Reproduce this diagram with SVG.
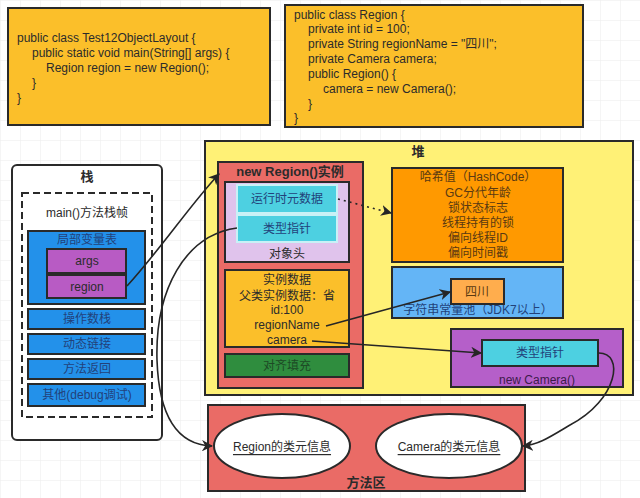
<svg xmlns="http://www.w3.org/2000/svg" width="640" height="498" viewBox="0 0 640 498">
<defs>
<pattern id="grid" width="20" height="20" patternUnits="userSpaceOnUse">
<path d="M20 0H0V20" fill="none" stroke="#ececec" stroke-width="1"/>
</pattern>
<marker id="ah" viewBox="0 0 10 10" refX="9" refY="5" markerWidth="7" markerHeight="7" orient="auto">
<path d="M0,0 L10,5 L0,10 L3,5 Z" fill="#262626"/>
</marker>
<style>
text{font-family:"Liberation Sans","Noto Sans CJK SC",sans-serif;font-size:12px;fill:#2b2b2b}
.c{text-anchor:middle;dominant-baseline:central}
.b{font-weight:bold;font-size:13px}
.box{stroke:#2a2a2a;stroke-width:2}
.code{fill:#FBBF2A}
.blue{fill:#2391EA}
.bt{fill:#22427a}
.pur{fill:#B85BC4}
.cy{fill:#4DD0E1;stroke:#c9f1f6;stroke-width:2}
.red{fill:#EA6B66}
.ln{fill:none;stroke:#262626;stroke-width:1.6}
.ht{fill:#5a3a12}
</style>
</defs>
<rect width="640" height="498" fill="#ffffff"/>
<rect width="640" height="498" fill="url(#grid)"/>

<g id="code1">
<rect x="8" y="8" width="262" height="117" class="box code"/>
<text x="17" y="42">public class Test12ObjectLayout {</text>
<text x="32" y="57">public static void main(String[] args) {</text>
<text x="46" y="72">Region region = new Region();</text>
<text x="32" y="87">}</text>
<text x="17" y="102">}</text>
</g>

<g id="code2">
<rect x="285" y="5" width="298" height="122" class="box code"/>
<text x="294" y="19">public class Region {</text>
<text x="308" y="33">private int id = 100;</text>
<text x="308" y="48">private String regionName = "四川";</text>
<text x="308" y="63">private Camera camera;</text>
<text x="308" y="78">public Region() {</text>
<text x="323" y="93">camera = new Camera();</text>
<text x="308" y="108">}</text>
<text x="294" y="122">}</text>
</g>

<g id="stack">
<rect x="12" y="165" width="150" height="275" rx="5" fill="#ffffff" class="box"/>
<text x="87" y="176" class="c b">栈</text>
<rect x="22" y="193" width="130" height="224" fill="none" stroke="#2a2a2a" stroke-width="2" stroke-dasharray="7,4"/>
<text x="87" y="213" class="c">main()方法栈帧</text>
</g>

<g id="localvars">
<rect x="28" y="231" width="117" height="73" class="box blue"/>
<text x="87" y="240" class="c bt">局部变量表</text>
</g>
<g id="args">
<rect x="47" y="249" width="79" height="24" class="box pur"/>
<text x="87" y="261" class="c">args</text>
</g>
<g id="region">
<rect x="47" y="275" width="79" height="23" class="box pur"/>
<text x="87" y="287" class="c">region</text>
</g>
<g id="opstack">
<rect x="28" y="309" width="117" height="20" class="box blue"/>
<text x="87" y="319" class="c bt">操作数栈</text>
</g>
<g id="dynlink">
<rect x="28" y="334" width="117" height="20" class="box blue"/>
<text x="87" y="344" class="c bt">动态链接</text>
</g>
<g id="ret">
<rect x="28" y="359" width="117" height="20" class="box blue"/>
<text x="87" y="369" class="c bt">方法返回</text>
</g>
<g id="other">
<rect x="28" y="384" width="117" height="22" class="box blue"/>
<text x="87" y="395" class="c bt">其他(debug调试)</text>
</g>

<g id="heap">
<rect x="205" y="141" width="428" height="254" fill="#FFF176" class="box"/>
<text x="418" y="151" class="c b">堆</text>
</g>

<g id="regionInstance">
<rect x="218" y="162" width="145" height="226" class="box red"/>
<text x="290" y="171" class="c b">new Region()实例</text>
</g>
<g id="objHeader">
<rect x="225" y="182" width="124" height="80" fill="#E0C3EC" class="box"/>
<text x="287" y="254" class="c">对象头</text>
</g>
<g id="runtimeMeta">
<rect x="237" y="185" width="100" height="28" class="cy"/>
<text x="287" y="199" class="c bt">运行时元数据</text>
</g>
<g id="typePtr">
<rect x="237" y="215" width="100" height="27" class="cy"/>
<text x="287" y="229" class="c bt">类型指针</text>
</g>
<g id="instData">
<rect x="225" y="270" width="124" height="77" class="box code"/>
<text x="287" y="280" class="c">实例数据</text>
<text x="287" y="296" class="c">父类实例数据：省</text>
<text x="287" y="310" class="c">id:100</text>
<text x="287" y="325" class="c">regionName</text>
<text x="287" y="340" class="c">camera</text>
</g>
<g id="padding">
<rect x="225" y="354" width="124" height="23" fill="#2F8D3E" class="box"/>
<text x="287" y="366" class="c" style="fill:#1d4a25">对齐填充</text>
</g>

<g id="markWord">
<rect x="392" y="168" width="171" height="94" fill="#FF9900" class="box"/>
<text x="478" y="177" class="c ht">哈希值（HashCode）</text>
<text x="478" y="193" class="c ht">GC分代年龄</text>
<text x="478" y="208" class="c ht">锁状态标志</text>
<text x="478" y="223" class="c ht">线程持有的锁</text>
<text x="478" y="238" class="c ht">偏向线程ID</text>
<text x="478" y="253" class="c ht">偏向时间戳</text>
</g>

<g id="stringPool">
<rect x="392" y="267" width="171" height="51" fill="#64B5F6" class="box"/>
<text x="478" y="310" class="c bt">字符串常量池（JDK7以上）</text>
</g>
<g id="sichuan">
<rect x="451" y="279" width="53" height="25" fill="#FFAD4D" class="box"/>
<text x="477" y="292" class="c ht">四川</text>
</g>

<g id="cameraInstance">
<rect x="451" y="329" width="172" height="58" fill="#B55FC9" class="box"/>
<text x="537" y="380" class="c" style="fill:#3c1a4a">new Camera()</text>
</g>
<g id="cameraTypePtr">
<rect x="482" y="340" width="116" height="26" fill="#4DD0E1" class="box"/>
<text x="540" y="353" class="c bt">类型指针</text>
</g>

<g id="methodArea">
<rect x="208" y="405" width="317" height="86" class="box red"/>
<text x="366" y="482" class="c b">方法区</text>
</g>
<g id="regionClass">
<ellipse cx="282" cy="446" rx="68" ry="32" fill="#ffffff" class="box"/>
<text x="282" y="447" class="c" text-decoration="underline">Region的类元信息</text>
</g>
<g id="cameraClass">
<ellipse cx="449" cy="446" rx="73" ry="32" fill="#ffffff" class="box"/>
<text x="449" y="447" class="c" text-decoration="underline">Camera的类元信息</text>
</g>

<g id="connectors">
<path d="M127,286 C160,250 190,205 219,174" class="ln" marker-end="url(#ah)"/>
<path d="M237,228 C185,235 155,290 157,360 C159,420 180,445 212,446" class="ln" marker-end="url(#ah)"/>
<path d="M338,199 L391,213" class="ln" stroke-dasharray="2,4" stroke-width="2" marker-end="url(#ah)"/>
<path d="M326,326 L450,292" class="ln" marker-end="url(#ah)"/>
<path d="M312,341 L481,353" class="ln" marker-end="url(#ah)"/>
<path d="M598,353 C625,352 618,400 570,425 C550,437 538,445 523,446" class="ln" marker-end="url(#ah)"/>
</g>
</svg>
